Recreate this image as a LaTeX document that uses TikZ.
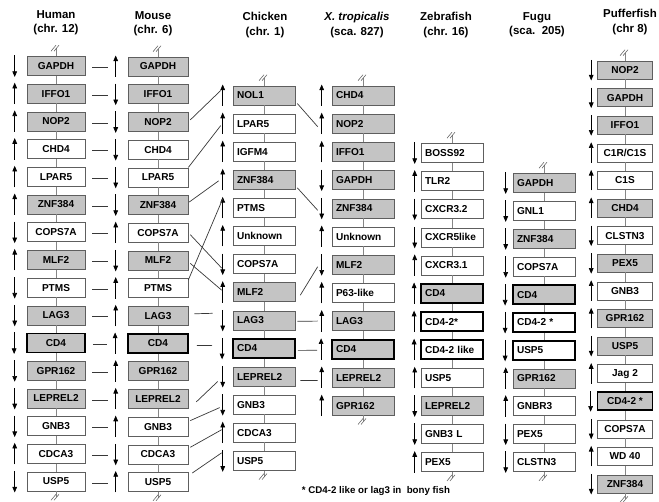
\documentclass[tikz,border=0pt]{standalone}
\usepackage{fontspec}
\setmainfont{Liberation Sans}
\usetikzlibrary{arrows.meta,calc}
\definecolor{GeneGray}{HTML}{C4C4C4}
\definecolor{EdgeGray}{HTML}{5E5E5E}
\definecolor{LinkGray}{HTML}{383838}
\tikzset{>={Triangle[length=1.7mm,width=1.4mm]},
 gene/.style={draw=EdgeGray,line width=.5pt,minimum height=5.7mm,inner ysep=0pt,
  font=\bfseries\fontsize{8.6}{9}\selectfont},
 gr/.style={fill=GeneGray},wh/.style={fill=white},
 grk/.style={fill=GeneGray,draw=black,line width=1.5pt},
 whk/.style={fill=white,draw=black,line width=1.5pt},
 lft/.style={text width=16.2mm,align=left,inner xsep=1.2mm},
 ori/.style={->,line width=.6pt},
 spine/.style={draw=EdgeGray!75,line width=.5pt},
 orth/.style={draw=LinkGray,line width=.6pt},
 head/.style={align=center,font=\bfseries\fontsize{9.8}{12.2}\selectfont},
 brk/.pic={\draw[EdgeGray,line width=.45pt] (-5,3)--(0,-3) (-2,3)--(3,-3);}}
\begin{document}
\begin{tikzpicture}[x=0.3mm,y=-0.3mm]
\useasboundingbox (0,0) rectangle (659,502);
% species headers
\node[head] (tHum) at (56,23) {Human\\(chr. 12)};
\node[head] (tMou) at (153,24) {Mouse\\(chr. 6)};
\node[head] (tChi) at (265,25) {Chicken\\(chr. 1)};
\node[head] (tXen) at (357,25) {\textit{X. tropicalis}\\(sca. 827)};
\node[head] (tZeb) at (446,25) {Zebrafish\\(chr. 16)};
\node[head] (tFug) at (537,25) {Fugu\\(sca.\ \ 205)};
\node[head] (tPuf) at (630,22) {Pufferfish\\(chr 8)};
% human
\foreach \lab/\st/\dir [count=\i] in {GAPDH/gr/1,IFFO1/gr/-1,NOP2/gr/-1,CHD4/wh/-1,
 LPAR5/wh/-1,ZNF384/gr/-1,COPS7A/wh/1,MLF2/gr/-1,PTMS/wh/1,LAG3/gr/1,CD4/grk/1,
 GPR162/gr/1,LEPREL2/gr/1,GNB3/wh/1,CDCA3/wh/-1,USP5/wh/1}
 {\node[gene,\st,minimum width=17.4mm] (h\i) at (56,{66+27.7*(\i-1)}) {\lab};
  \draw[ori] ($(h\i.west)+(-12,{-10.5*(\dir)})$)--($(h\i.west)+(-12,{11*(\dir)})$);}
% mouse
\foreach \lab/\st/\dir [count=\i] in {GAPDH/gr/-1,IFFO1/gr/1,NOP2/gr/1,CHD4/wh/1,
 LPAR5/wh/1,ZNF384/gr/1,COPS7A/wh/-1,MLF2/gr/1,PTMS/wh/-1,LAG3/gr/-1,CD4/grk/-1,
 GPR162/gr/-1,LEPREL2/gr/-1,GNB3/wh/-1,CDCA3/wh/1,USP5/wh/-1}
 {\node[gene,\st,minimum width=18mm] (m\i) at (158,{66.5+27.7*(\i-1)}) {\lab};
  \draw[ori] ($(m\i.west)+(-12,{-10.5*(\dir)})$)--($(m\i.west)+(-12,{11*(\dir)})$);}
% chicken
\foreach \lab/\st/\dir [count=\i] in {NOL1/gr/-1,LPAR5/wh/-1,IGFM4/wh/-1,ZNF384/gr/-1,
 PTMS/wh/-1,Unknown/wh/-1,COPS7A/wh/1,MLF2/gr/-1,LAG3/gr/1,CD4/grk/1,LEPREL2/gr/1,
 GNB3/wh/1,CDCA3/wh/-1,USP5/wh/1}
 {\node[gene,\st,lft] (c\i) at (264,{95.5+28.1*(\i-1)}) {\lab};
  \draw[ori] ($(c\i.west)+(-10,{-10.5*(\dir)})$)--($(c\i.west)+(-10,{11*(\dir)})$);}
% x. tropicalis
\foreach \lab/\st/\dir [count=\i] in {CHD4/gr/-1,NOP2/gr/-1,IFFO1/gr/-1,GAPDH/gr/1,
 ZNF384/gr/1,Unknown/wh/-1,MLF2/gr/1,P63-like/wh/-1,LAG3/gr/-1,CD4/grk/-1,
 LEPREL2/gr/-1,GPR162/gr/-1}
 {\node[gene,\st,lft] (x\i) at (363,{95.5+28.2*(\i-1)}) {\lab};
  \draw[ori] ($(x\i.west)+(-10,{-10.5*(\dir)})$)--($(x\i.west)+(-10,{11*(\dir)})$);}
% zebrafish
\foreach \lab/\st/\dir [count=\i] in {BOSS92/wh/1,TLR2/wh/-1,CXCR3.2/wh/1,
 CXCR5like/wh/1,CXCR3.1/wh/-1,CD4/grk/-1,CD4-2*/whk/-1,CD4-2 like/whk/-1,
 USP5/wh/-1,LEPREL2/gr/1,GNB3 L/wh/1,PEX5/wh/-1}
 {\node[gene,\st,lft] (z\i) at (452,{153+28.1*(\i-1)}) {\lab};
  \draw[ori] ($(z\i.west)+(-6,{-10.5*(\dir)})$)--($(z\i.west)+(-6,{11*(\dir)})$);}
% fugu
\foreach \lab/\st/\dir [count=\i] in {GAPDH/gr/1,GNL1/wh/1,ZNF384/gr/1,COPS7A/wh/1,
 CD4/grk/1,CD4-2 */whk/1,USP5/whk/1,GPR162/gr/-1,GNBR3/wh/-1,PEX5/wh/1,CLSTN3/wh/1}
 {\node[gene,\st,lft] (f\i) at (544,{183+27.9*(\i-1)}) {\lab};
  \draw[ori] ($(f\i.west)+(-7,{-10.5*(\dir)})$)--($(f\i.west)+(-7,{11*(\dir)})$);}
% pufferfish
\foreach \lab/\st/\dir [count=\i] in {NOP2/gr/1,GAPDH/gr/1,IFFO1/gr/1,{C1R/C1S}/wh/-1,
 C1S/wh/-1,CHD4/gr/-1,CLSTN3/wh/1,PEX5/gr/1,GNB3/wh/-1,GPR162/gr/-1,USP5/gr/1,
 Jag 2/wh/-1,CD4-2 */grk/1,COPS7A/wh/1,WD 40/wh/-1,ZNF384/gr/1}
 {\node[gene,\st,minimum width=16.5mm,minimum height=5.4mm] (p\i) at (625,{70+27.6*(\i-1)}) {\lab};
  \draw[ori] ($(p\i.west)+(-6,{-10*(\dir)})$)--($(p\i.west)+(-6,{10.5*(\dir)})$);}
% chromosome line and breaks
\foreach \col/\n in {h/16,m/16,c/14,x/12,z/12,f/11,p/16}
 {\draw[spine] (\col1.north)--++(0,-8) pic{brk};
  \draw[spine] (\col\n.south)--++(0,6) pic{brk};
  \foreach \i in {2,...,\n}{\pgfmathtruncatemacro\k{\i-1}\draw[spine] (\col\k)--(\col\i);}}
% human - mouse
\foreach \i in {1,...,16}
 \draw[orth] ($(h\i.east)+(7,1.5)$)--($(m\i.west)+(-20,1)$);
% mouse - chicken
\draw[orth] ($(m3.east)+(2,-2)$)--($(c1.west)+(-12,-5)$);
\draw[orth] (m5.north east)--($(c2.west)+(-12,2)$);
\draw[orth] ($(m6.east)+(1,-3)$)--($(c4.west)+(-14,1)$);
\draw[orth] ($(m7.east)+(2,2)$)--($(c7.west)+(-11,4)$);
\draw[orth] ($(m8.east)+(2,3)$)--($(c8.west)+(-11,-2)$);
\draw[orth] ($(m9.east)+(0,-8)$)--($(c5.west)+(-10,-9)$);
\draw[orth] ($(m10.east)+(6,-2)$)--($(c9.west)+(-20,-7)$);
\draw[orth] ($(m11.east)+(8,2)$)--($(c10.west)+(-20,-3)$);
\draw[orth] ($(m13.east)+(8,3)$)--($(c11.west)+(-15,5)$);
\draw[orth] ($(m14.east)+(2,-6)$)--($(c12.west)+(-13,3)$);
\draw[orth] ($(m15.east)+(2,-7)$)--($(c13.west)+(-11,-3)$);
\draw[orth] ($(m16.east)+(4,-9)$)--($(c14.west)+(-11,-8)$);
% chicken - x. tropicalis
\draw[orth] ($(c1.east)+(2,8)$)--($(x2.west)+(-14,3)$);
\draw[orth] ($(c4.east)+(2,8)$)--($(x5.west)+(-14,2)$);
\draw[orth] ($(c8.east)+(5,3)$)--($(x7.west)+(-14,2)$);
\draw[orth] ($(c9.east)+(2,1)$)--($(x9.west)+(-14,0)$);
\draw[orth] ($(c10.east)+(2,2)$)--($(x10.west)+(-14,1)$);
\draw[orth] ($(c11.east)+(5,4)$)--($(x11.west)+(-14,3)$);
\node[font=\bfseries\fontsize{8.3}{9}\selectfont] (note) at (376,491)
 {* CD4-2 like or lag3 in\ \ bony fish};
\end{tikzpicture}
\end{document}
